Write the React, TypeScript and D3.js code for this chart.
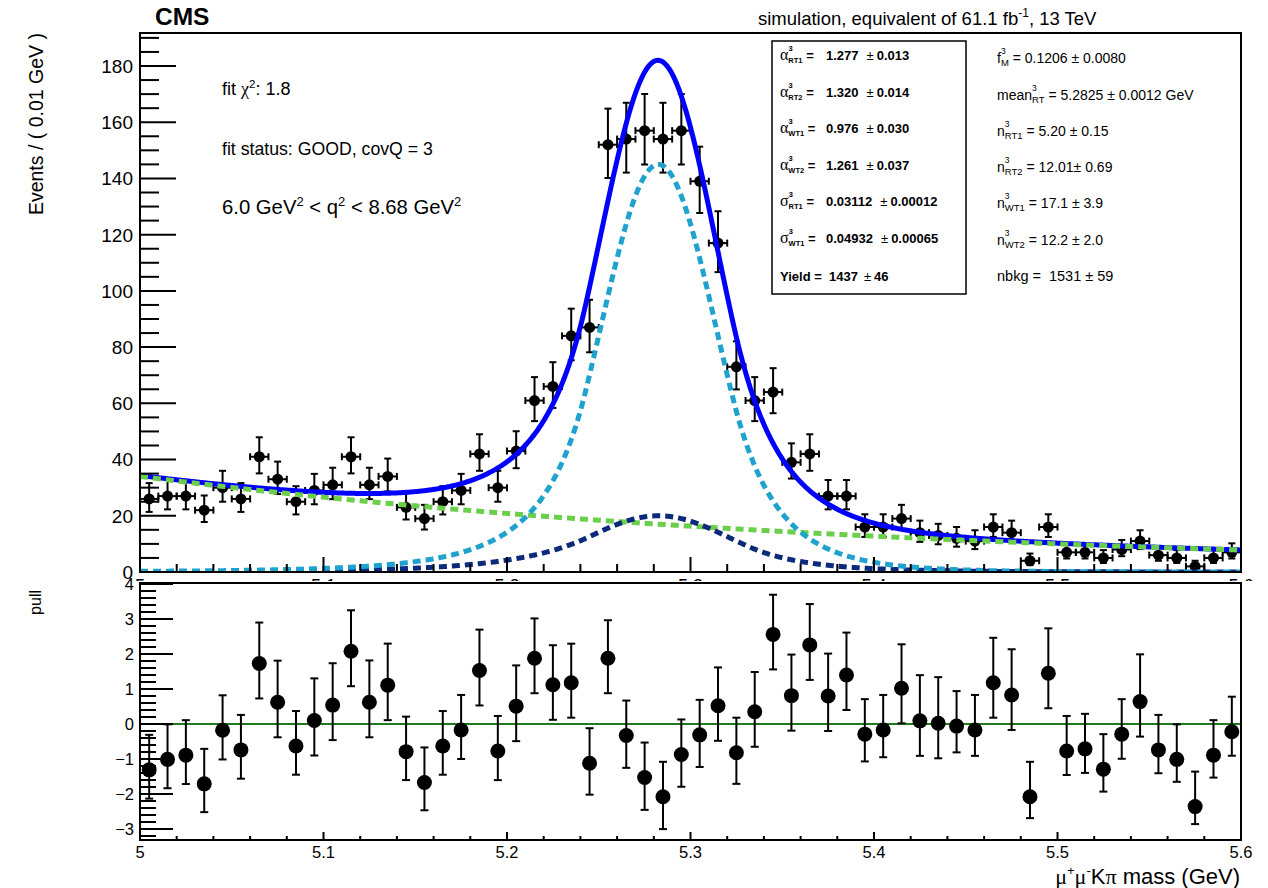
import React from "react";
import * as d3 from "d3";

// Histogram bin centres of the μ⁺μ⁻Kπ mass (GeV), 0.01 GeV wide bins
const MASS_BINS = [
  5.005, 5.015, 5.025, 5.035, 5.045, 5.055, 5.065, 5.075, 5.085, 5.095,
  5.105, 5.115, 5.125, 5.135, 5.145, 5.155, 5.165, 5.175, 5.185, 5.195,
  5.205, 5.215, 5.225, 5.235, 5.245, 5.255, 5.265, 5.275, 5.285, 5.295,
  5.305, 5.315, 5.325, 5.335, 5.345, 5.355, 5.365, 5.375, 5.385, 5.395,
  5.405, 5.415, 5.425, 5.435, 5.445, 5.455, 5.465, 5.475, 5.485, 5.495,
  5.505, 5.515, 5.525, 5.535, 5.545, 5.555, 5.565, 5.575, 5.585, 5.595,
];

// Events per bin
const EVENTS = [
  26, 27, 27, 22, 30, 26, 41, 33, 25, 29,
  31, 41, 31, 34, 23, 19, 25, 29, 42, 30,
  43, 61, 66, 84, 87, 152, 154, 157, 154, 157,
  139, 117, 73, 61, 64, 39, 42, 27, 27, 16,
  16, 19, 14, 13, 12, 11, 16, 14, 4, 16,
  7, 7, 5, 8, 11, 6, 5, 2, 5, 7,
];

// Pull of each bin with respect to the total fit
const PULLS = [
  -1.31, -1.01, -0.89, -1.71, -0.18, -0.74, 1.73, 0.62, -0.63, 0.1,
  0.54, 2.08, 0.62, 1.11, -0.79, -1.67, -0.63, -0.17, 1.53, -0.77,
  0.51, 1.88, 1.12, 1.18, -1.12, 1.88, -0.33, -1.53, -2.08, -0.87,
  -0.31, 0.52, -0.82, 0.35, 2.56, 0.81, 2.26, 0.8, 1.4, -0.29,
  -0.17, 1.02, 0.09, 0.02, -0.06, -0.17, 1.18, 0.83, -2.08, 1.45,
  -0.77, -0.71, -1.29, -0.29, 0.64, -0.74, -1.01, -2.36, -0.89, -0.22,
];

const X_TICKS = [5, 5.1, 5.2, 5.3, 5.4, 5.5, 5.6];
const X_TICK_LABELS = ["5", "5.1", "5.2", "5.3", "5.4", "5.5", "5.6"];
const Y_TICKS_TOP = [0, 20, 40, 60, 80, 100, 120, 140, 160, 180];
const Y_TICKS_PULL = [-3, -2, -1, 0, 1, 2, 3, 4];
const Y_TICK_LABELS_PULL = ["\u22123", "\u22122", "\u22121", "0", "1", "2", "3", "4"];

// Fitted model shapes (double-sided Crystal Ball peaks, exponential background)
const RT_SHAPE = { mean: 5.2825, sigma: 0.03112, alpha1: 1.277, n1: 5.2, alpha2: 1.32, n2: 12.01, peak: 145 };
const WT_SHAPE = { mean: 5.2825, sigma: 0.039, alpha1: 0.976, n1: 17.1, alpha2: 1.261, n2: 12.2, peak: 20 };
const BKG_SHAPE = { level: 34, slope: 2.45 };

// Fit results printed in the boxed column
const BOX_PARAMS = [
  { sym: "α", sub: "RT1", val: "1.277", err: "0.013" },
  { sym: "α", sub: "RT2", val: "1.320", err: "0.014" },
  { sym: "α", sub: "WT1", val: "0.976", err: "0.030" },
  { sym: "α", sub: "WT2", val: "1.261", err: "0.037" },
  { sym: "σ", sub: "RT1", val: "0.03112", err: "0.00012" },
  { sym: "σ", sub: "WT1", val: "0.04932", err: "0.00065" },
];
const YIELD = { val: "1437", err: "46" };

// Fit results printed in the open column
const SIDE_PARAMS = [
  { sym: "f", sub: "M", text: "0.1206 ± 0.0080" },
  { sym: "mean", sub: "RT", text: "5.2825 ± 0.0012 GeV" },
  { sym: "n", sub: "RT1", text: "5.20 ± 0.15" },
  { sym: "n", sub: "RT2", text: "12.01± 0.69" },
  { sym: "n", sub: "WT1", text: "17.1 ± 3.9" },
  { sym: "n", sub: "WT2", text: "12.2 ± 2.0" },
];
const NBKG = "nbkg =  1531 ± 59";

const FONT = "'Liberation Sans', Arial, Helvetica, sans-serif";
const SYMBOL_FONT = "'Liberation Serif', 'DejaVu Serif', serif";

const C_TOTAL = "#0000ff";
const C_RT = "#1fa2cd";
const C_WT = "#0c2a7a";
const C_BKG = "#6ccf4b";
const C_ZERO = "#1d7a1d";

function doubleCB(m: number, s: typeof RT_SHAPE) {
  const t = (m - s.mean) / s.sigma;
  if (t < -s.alpha1) {
    const r = s.n1 / s.alpha1;
    return Math.exp(-0.5 * s.alpha1 * s.alpha1) * Math.pow(r / (r - s.alpha1 - t), s.n1);
  }
  if (t > s.alpha2) {
    const r = s.n2 / s.alpha2;
    return Math.exp(-0.5 * s.alpha2 * s.alpha2) * Math.pow(r / (r - s.alpha2 + t), s.n2);
  }
  return Math.exp(-0.5 * t * t);
}

const rtPdf = (m: number) => RT_SHAPE.peak * doubleCB(m, RT_SHAPE);
const wtPdf = (m: number) => WT_SHAPE.peak * doubleCB(m, WT_SHAPE);
const bkgPdf = (m: number) => BKG_SHAPE.level * Math.exp(-BKG_SHAPE.slope * (m - 5));
const totalPdf = (m: number) => rtPdf(m) + wtPdf(m) + bkgPdf(m);

// Approximate Poisson interval half-widths
const errLow = (n: number) => Math.sqrt(n + 0.25) - 0.5;
const errHigh = (n: number) => Math.sqrt(n + 0.25) + 0.5;

export default function App() {
  const W = 1268;
  const H = 888;
  const left = 140;
  const right = 1241;
  const topY0 = 33;
  const topY1 = 572;
  const pullY0 = 583;
  const pullY1 = 840;

  const x = d3.scaleLinear().domain([5, 5.6]).range([left, right]);
  const yTop = d3.scaleLinear().domain([0, 180]).range([topY1, 66]);
  const yPull = d3.scaleLinear().domain([0, 3]).range([724, 619]);

  const grid = d3.range(0, 1201).map((i) => 5 + i * 0.0005);
  const curve = (f: (m: number) => number) =>
    d3.line<number>().x((m) => x(m)).y((m) => yTop(f(m)))(grid) || "";

  const minorTop = d3.range(0, 191, 5).filter((v) => v % 20 !== 0);
  const minorPull = d3.range(-16, 21).map((i) => i * 0.2).filter((v) => Math.abs(v - Math.round(v)) > 1e-6);
  const minorX = d3.range(0, 31).map((i) => 5 + i * 0.02).filter((v) => Math.abs(v * 10 - Math.round(v * 10)) > 1e-6);

  const halfBin = x(5.005) - x(5.0);
  const dash = "8,5";

  const sideBase = [63, 99.5, 135.5, 171.5, 208, 244.5];
  const boxBase = [60, 96.5, 133, 169.5, 206, 242.5];

  return (
    <svg
      width={W}
      height={H}
      viewBox={`0 0 ${W} ${H}`}
      style={{ position: "absolute", left: 0, top: 0, background: "#fff" }}
      fontFamily={FONT}
    >
      <rect x={0} y={0} width={W} height={H} fill="#fff" />
      <defs>
        <clipPath id="topPlot">
          <rect x={left} y={topY0} width={right - left} height={topY1 - topY0} />
        </clipPath>
        <clipPath id="topLabels">
          <rect x={0} y={0} width={W} height={581} />
        </clipPath>
      </defs>

      {/* Header */}
      <text x={155} y={25} fontSize={24.5} fontWeight="bold">CMS</text>
      <text x={758} y={25} fontSize={18.5}>
        simulation, equivalent of 61.1 fb
        <tspan fontSize={12} dy={-8}>-1</tspan>
        <tspan dy={8}>, 13 TeV</tspan>
      </text>

      {/* ===== Upper panel ===== */}
      <g>
        {/* data */}
        {MASS_BINS.map((m, i) => {
          const n = EVENTS[i];
          const cx = x(m);
          const cy = yTop(n);
          const yl = yTop(n - errLow(n));
          const yh = yTop(n + errHigh(n));
          return (
            <g key={i} stroke="#000" strokeWidth={2}>
              <line x1={cx} x2={cx} y1={yh} y2={yl} />
              <line x1={cx - 3.5} x2={cx + 3.5} y1={yh} y2={yh} />
              <line x1={cx - 3.5} x2={cx + 3.5} y1={yl} y2={yl} />
              <line x1={cx - halfBin} x2={cx + halfBin} y1={cy} y2={cy} />
              <line x1={cx - halfBin} x2={cx - halfBin} y1={cy - 3.5} y2={cy + 3.5} />
              <line x1={cx + halfBin} x2={cx + halfBin} y1={cy - 3.5} y2={cy + 3.5} />
              <circle cx={cx} cy={cy} r={5.5} fill="#000" stroke="none" />
            </g>
          );
        })}

        {/* fit curves */}
        <g clipPath="url(#topPlot)" fill="none">
          <path d={curve(totalPdf)} stroke={C_TOTAL} strokeWidth={5} />
          <path d={curve(bkgPdf)} stroke={C_BKG} strokeWidth={5} strokeDasharray={dash} />
          <path d={curve(wtPdf)} stroke={C_WT} strokeWidth={5} strokeDasharray={dash} />
          <path d={curve(rtPdf)} stroke={C_RT} strokeWidth={5} strokeDasharray={dash} />
        </g>

        {/* frame */}
        <rect x={left} y={topY0} width={right - left} height={topY1 - topY0} fill="none" stroke="#000" strokeWidth={2} />

        {/* y axis */}
        {Y_TICKS_TOP.map((v) => (
          <g key={v}>
            <line x1={left} x2={left + 36} y1={yTop(v)} y2={yTop(v)} stroke="#000" strokeWidth={2} />
            <text x={133} y={yTop(v)} dy="0.36em" fontSize={19} textAnchor="end">{v}</text>
          </g>
        ))}
        {minorTop.map((v) => (
          <line key={v} x1={left} x2={left + 19} y1={yTop(v)} y2={yTop(v)} stroke="#000" strokeWidth={2} />
        ))}

        {/* x axis ticks */}
        {X_TICKS.map((v) => (
          <line key={v} x1={x(v)} x2={x(v)} y1={topY1} y2={topY1 - 15} stroke="#000" strokeWidth={2} />
        ))}
        {minorX.map((v) => (
          <line key={v} x1={x(v)} x2={x(v)} y1={topY1} y2={topY1 - 8} stroke="#000" strokeWidth={2} />
        ))}
        <g clipPath="url(#topLabels)">
          {X_TICKS.map((v, i) => (
            <text key={v} x={x(v)} y={592} fontSize={18} textAnchor="middle">{X_TICK_LABELS[i]}</text>
          ))}
        </g>

        <text transform="translate(43,33) rotate(-90)" fontSize={19.5} textAnchor="end">
          Events / ( 0.01 GeV )
        </text>

        {/* fit annotations */}
        <text x={222} y={95} fontSize={18}>
          fit <tspan fontFamily={SYMBOL_FONT}>χ</tspan>
          <tspan fontSize={11.5} dy={-7}>2</tspan>
          <tspan dy={7}>: 1.8</tspan>
        </text>
        <text x={222} y={155} fontSize={17.7}>fit status: GOOD, covQ = 3</text>
        <text x={222} y={214} fontSize={20.3}>
          6.0 GeV<tspan fontSize={13} dy={-8}>2</tspan>
          <tspan dy={8}> &lt; q</tspan>
          <tspan fontSize={13} dy={-8}>2</tspan>
          <tspan dy={8}> &lt; 8.68 GeV</tspan>
          <tspan fontSize={13} dy={-8}>2</tspan>
        </text>

        {/* boxed parameters */}
        <rect x={772} y={41} width={194} height={253} fill="#fff" stroke="#000" strokeWidth={1.5} />
        {BOX_PARAMS.map((p, i) => (
          <g key={i}>
            <text x={780} y={boxBase[i]} fontSize={13}>
              <tspan fontFamily={SYMBOL_FONT} fontSize={16}>{p.sym}</tspan>
              <tspan fontSize={7.5} dy={-9} fontWeight="bold">3</tspan>
              <tspan fontSize={7.5} dx={-4.2} dy={12} fontWeight="bold">{p.sub}</tspan>
              <tspan dy={-3} fontWeight="bold"> =</tspan>
            </text>
            <text x={826} y={boxBase[i]} fontSize={13}>
              <tspan fontWeight="bold">{p.val}</tspan>
              <tspan dx={8}>±</tspan>
              <tspan fontWeight="bold" dx={3}>{p.err}</tspan>
            </text>
          </g>
        ))}
        <text x={780} y={281} fontSize={13} fontWeight="bold">Yield =</text>
        <text x={829} y={281} fontSize={13}>
          <tspan fontWeight="bold">{YIELD.val}</tspan>
          <tspan dx={6}>±</tspan>
          <tspan fontWeight="bold" dx={3}>{YIELD.err}</tspan>
        </text>

        {/* open-column parameters */}
        {SIDE_PARAMS.map((p, i) => (
          <text key={i} x={997} y={sideBase[i]} fontSize={14}>
            <tspan>{p.sym}</tspan>
            <tspan fontSize={8.5} dy={-9}>3</tspan>
            <tspan fontSize={9.5} dx={-4.7} dy={12}>{p.sub}</tspan>
            <tspan dy={-3}>{" = " + p.text}</tspan>
          </text>
        ))}
        <text x={997} y={281} fontSize={14.5} style={{ whiteSpace: "pre" }}>{NBKG}</text>
      </g>

      {/* ===== Pull panel ===== */}
      <g>
        <line x1={left} x2={right} y1={yPull(0)} y2={yPull(0)} stroke={C_ZERO} strokeWidth={2} />
        {MASS_BINS.map((m, i) => {
          const p = PULLS[i];
          const n = EVENTS[i];
          const ratio = errLow(n) / errHigh(n);
          const up = p >= 0 ? 1 / ratio : 1;
          const dn = p >= 0 ? 1 : ratio;
          const cx = x(m);
          const yh = yPull(p + up);
          const yl = yPull(p - dn);
          return (
            <g key={i} stroke="#000" strokeWidth={2}>
              <line x1={cx} x2={cx} y1={yh} y2={yl} />
              <line x1={cx - 4} x2={cx + 4} y1={yh} y2={yh} />
              <line x1={cx - 4} x2={cx + 4} y1={yl} y2={yl} />
              <circle cx={cx} cy={yPull(p)} r={7.5} fill="#000" stroke="none" />
            </g>
          );
        })}

        <rect x={left} y={pullY0} width={right - left} height={pullY1 - pullY0} fill="none" stroke="#000" strokeWidth={2} />

        {Y_TICKS_PULL.map((v, i) => (
          <g key={v}>
            <line x1={left} x2={left + 33} y1={yPull(v)} y2={yPull(v)} stroke="#000" strokeWidth={2} />
            <text x={134} y={yPull(v)} dy="0.36em" fontSize={16.5} textAnchor="end">{Y_TICK_LABELS_PULL[i]}</text>
          </g>
        ))}
        {minorPull.map((v) => (
          <line key={v} x1={left} x2={left + 16} y1={yPull(v)} y2={yPull(v)} stroke="#000" strokeWidth={2} />
        ))}

        {X_TICKS.map((v, i) => (
          <g key={v}>
            <line x1={x(v)} x2={x(v)} y1={pullY1} y2={pullY1 - 8} stroke="#000" strokeWidth={2} />
            <text x={x(v)} y={858} fontSize={16.5} textAnchor="middle">{X_TICK_LABELS[i]}</text>
          </g>
        ))}
        {minorX.map((v) => (
          <line key={v} x1={x(v)} x2={x(v)} y1={pullY1} y2={pullY1 - 4} stroke="#000" strokeWidth={2} />
        ))}

        <text transform="translate(41,590) rotate(-90)" fontSize={16} textAnchor="end">pull</text>

        <text x={1240} y={884} fontSize={22} textAnchor="end">
          <tspan fontFamily={SYMBOL_FONT}>μ</tspan>
          <tspan fontSize={13} dy={-9}>+</tspan>
          <tspan dy={9} fontFamily={SYMBOL_FONT}>μ</tspan>
          <tspan fontSize={13} dy={-9}>-</tspan>
          <tspan dy={9}>K</tspan>
          <tspan fontFamily={SYMBOL_FONT}>π</tspan>
          <tspan> mass (GeV)</tspan>
        </text>
      </g>
    </svg>
  );
}
